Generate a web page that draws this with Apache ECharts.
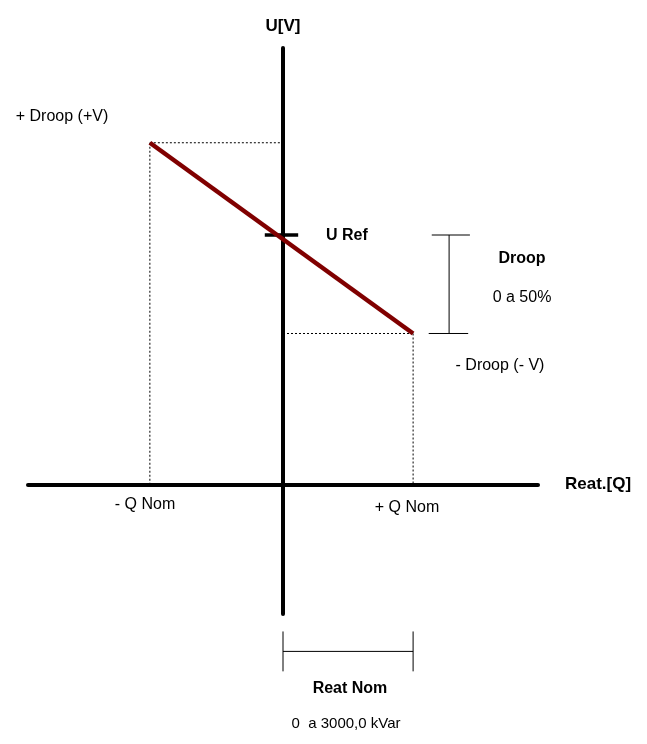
<!DOCTYPE html>
<html>
<head>
<meta charset="utf-8">
<script src="https://cdn.jsdelivr.net/npm/echarts@6/dist/echarts.min.js"></script>
<style>
  html, body { margin: 0; padding: 0; background: #fff; }
  #main { width: 647px; height: 744px; }
</style>
</head>
<body>
<div id="main"></div>
<script>
// droop characteristic: reactive power (kVar) vs voltage (% of U Ref)
const droopQ = [-3070, 3000]
const droopU = [137, 60.5]
const uRef = 100
const reatNom = [0, 3000]

const font = '"Liberation Sans", Arial, sans-serif'
const black = '#000'

// layout helpers for the annotation brackets (data units)
const droopBarX = 3830
const reatBarY = -67
const reatCapHalf = 8

const seg = (pts, style) => ({
  type: 'line',
  data: pts,
  symbol: 'none',
  silent: true,
  clip: false,
  animation: false,
  lineStyle: style
})

const dotted = { color: black, width: 1, type: [2, 2] }
const thin = { color: black, width: 1 }

const chart = echarts.init(document.getElementById('main'))

chart.setOption({
  backgroundColor: '#fff',
  animation: false,
  grid: { left: 28, right: 109, top: 48, bottom: 130 },
  xAxis: {
    type: 'value',
    min: -5880,
    max: 5880,
    name: 'Reat.[Q]',
    nameLocation: 'end',
    nameGap: 27,
    nameTextStyle: { fontFamily: font, fontSize: 17, fontWeight: 'bold', color: black },
    axisLine: { show: true, onZero: true, lineStyle: { color: black, width: 4 } },
    axisTick: { show: false },
    axisLabel: { show: false },
    splitLine: { show: false }
  },
  yAxis: {
    type: 'value',
    min: -52,
    max: 175,
    name: 'U[V]',
    nameLocation: 'end',
    nameGap: 13,
    nameTextStyle: { fontFamily: font, fontSize: 17, fontWeight: 'bold', color: black, align: 'center' },
    axisLine: { show: true, onZero: true, lineStyle: { color: black, width: 4 } },
    axisTick: { show: false },
    axisLabel: { show: false },
    splitLine: { show: false }
  },
  series: [
    // projections of the droop end points
    seg([[droopQ[0], droopU[0]], [0, droopU[0]]], dotted),
    seg([[droopQ[0], droopU[0]], [droopQ[0], 0]], dotted),
    seg([[0, droopU[1]], [droopQ[1], droopU[1]]], dotted),
    seg([[droopQ[1], droopU[1]], [droopQ[1], 0]], dotted),
    // U Ref tick
    seg([[-420, uRef], [350, uRef]], { color: black, width: 3.5 }),
    // droop range bracket
    seg([[droopBarX, uRef], [droopBarX, droopU[1]]], thin),
    seg([[droopBarX - 400, uRef], [droopBarX + 480, uRef]], thin),
    seg([[droopBarX - 470, droopU[1]], [droopBarX + 440, droopU[1]]], thin),
    // nominal reactive power bracket
    seg([[reatNom[0], reatBarY], [reatNom[1], reatBarY]], thin),
    seg([[reatNom[0], reatBarY + reatCapHalf], [reatNom[0], reatBarY - reatCapHalf]], thin),
    seg([[reatNom[1], reatBarY + reatCapHalf], [reatNom[1], reatBarY - reatCapHalf]], thin),
    // droop line
    seg([[droopQ[0], droopU[0]], [droopQ[1], droopU[1]]], { color: '#800000', width: 4.5 })
  ],
  graphic: [
    { type: 'text', x: 62, y: 117, style: { text: '+ Droop (+V)', font: '16px ' + font, fill: black, align: 'center', verticalAlign: 'middle' } },
    { type: 'text', x: 326, y: 236, style: { text: 'U Ref', font: 'bold 16px ' + font, fill: black, align: 'left', verticalAlign: 'middle' } },
    { type: 'text', x: 522, y: 259, style: { text: 'Droop', font: 'bold 16px ' + font, fill: black, align: 'center', verticalAlign: 'middle' } },
    { type: 'text', x: 522, y: 298, style: { text: '0 a 50%', font: '16px ' + font, fill: black, align: 'center', verticalAlign: 'middle' } },
    { type: 'text', x: 500, y: 366, style: { text: '- Droop (- V)', font: '16px ' + font, fill: black, align: 'center', verticalAlign: 'middle' } },
    { type: 'text', x: 145, y: 505, style: { text: '- Q Nom', font: '16px ' + font, fill: black, align: 'center', verticalAlign: 'middle' } },
    { type: 'text', x: 407, y: 508, style: { text: '+ Q Nom', font: '16px ' + font, fill: black, align: 'center', verticalAlign: 'middle' } },
    { type: 'text', x: 350, y: 689, style: { text: 'Reat Nom', font: 'bold 16px ' + font, fill: black, align: 'center', verticalAlign: 'middle' } },
    { type: 'text', x: 346, y: 724, style: { text: '0  a 3000,0 kVar', font: '15px ' + font, fill: black, align: 'center', verticalAlign: 'middle' } }
  ]
})
</script>
</body>
</html>
